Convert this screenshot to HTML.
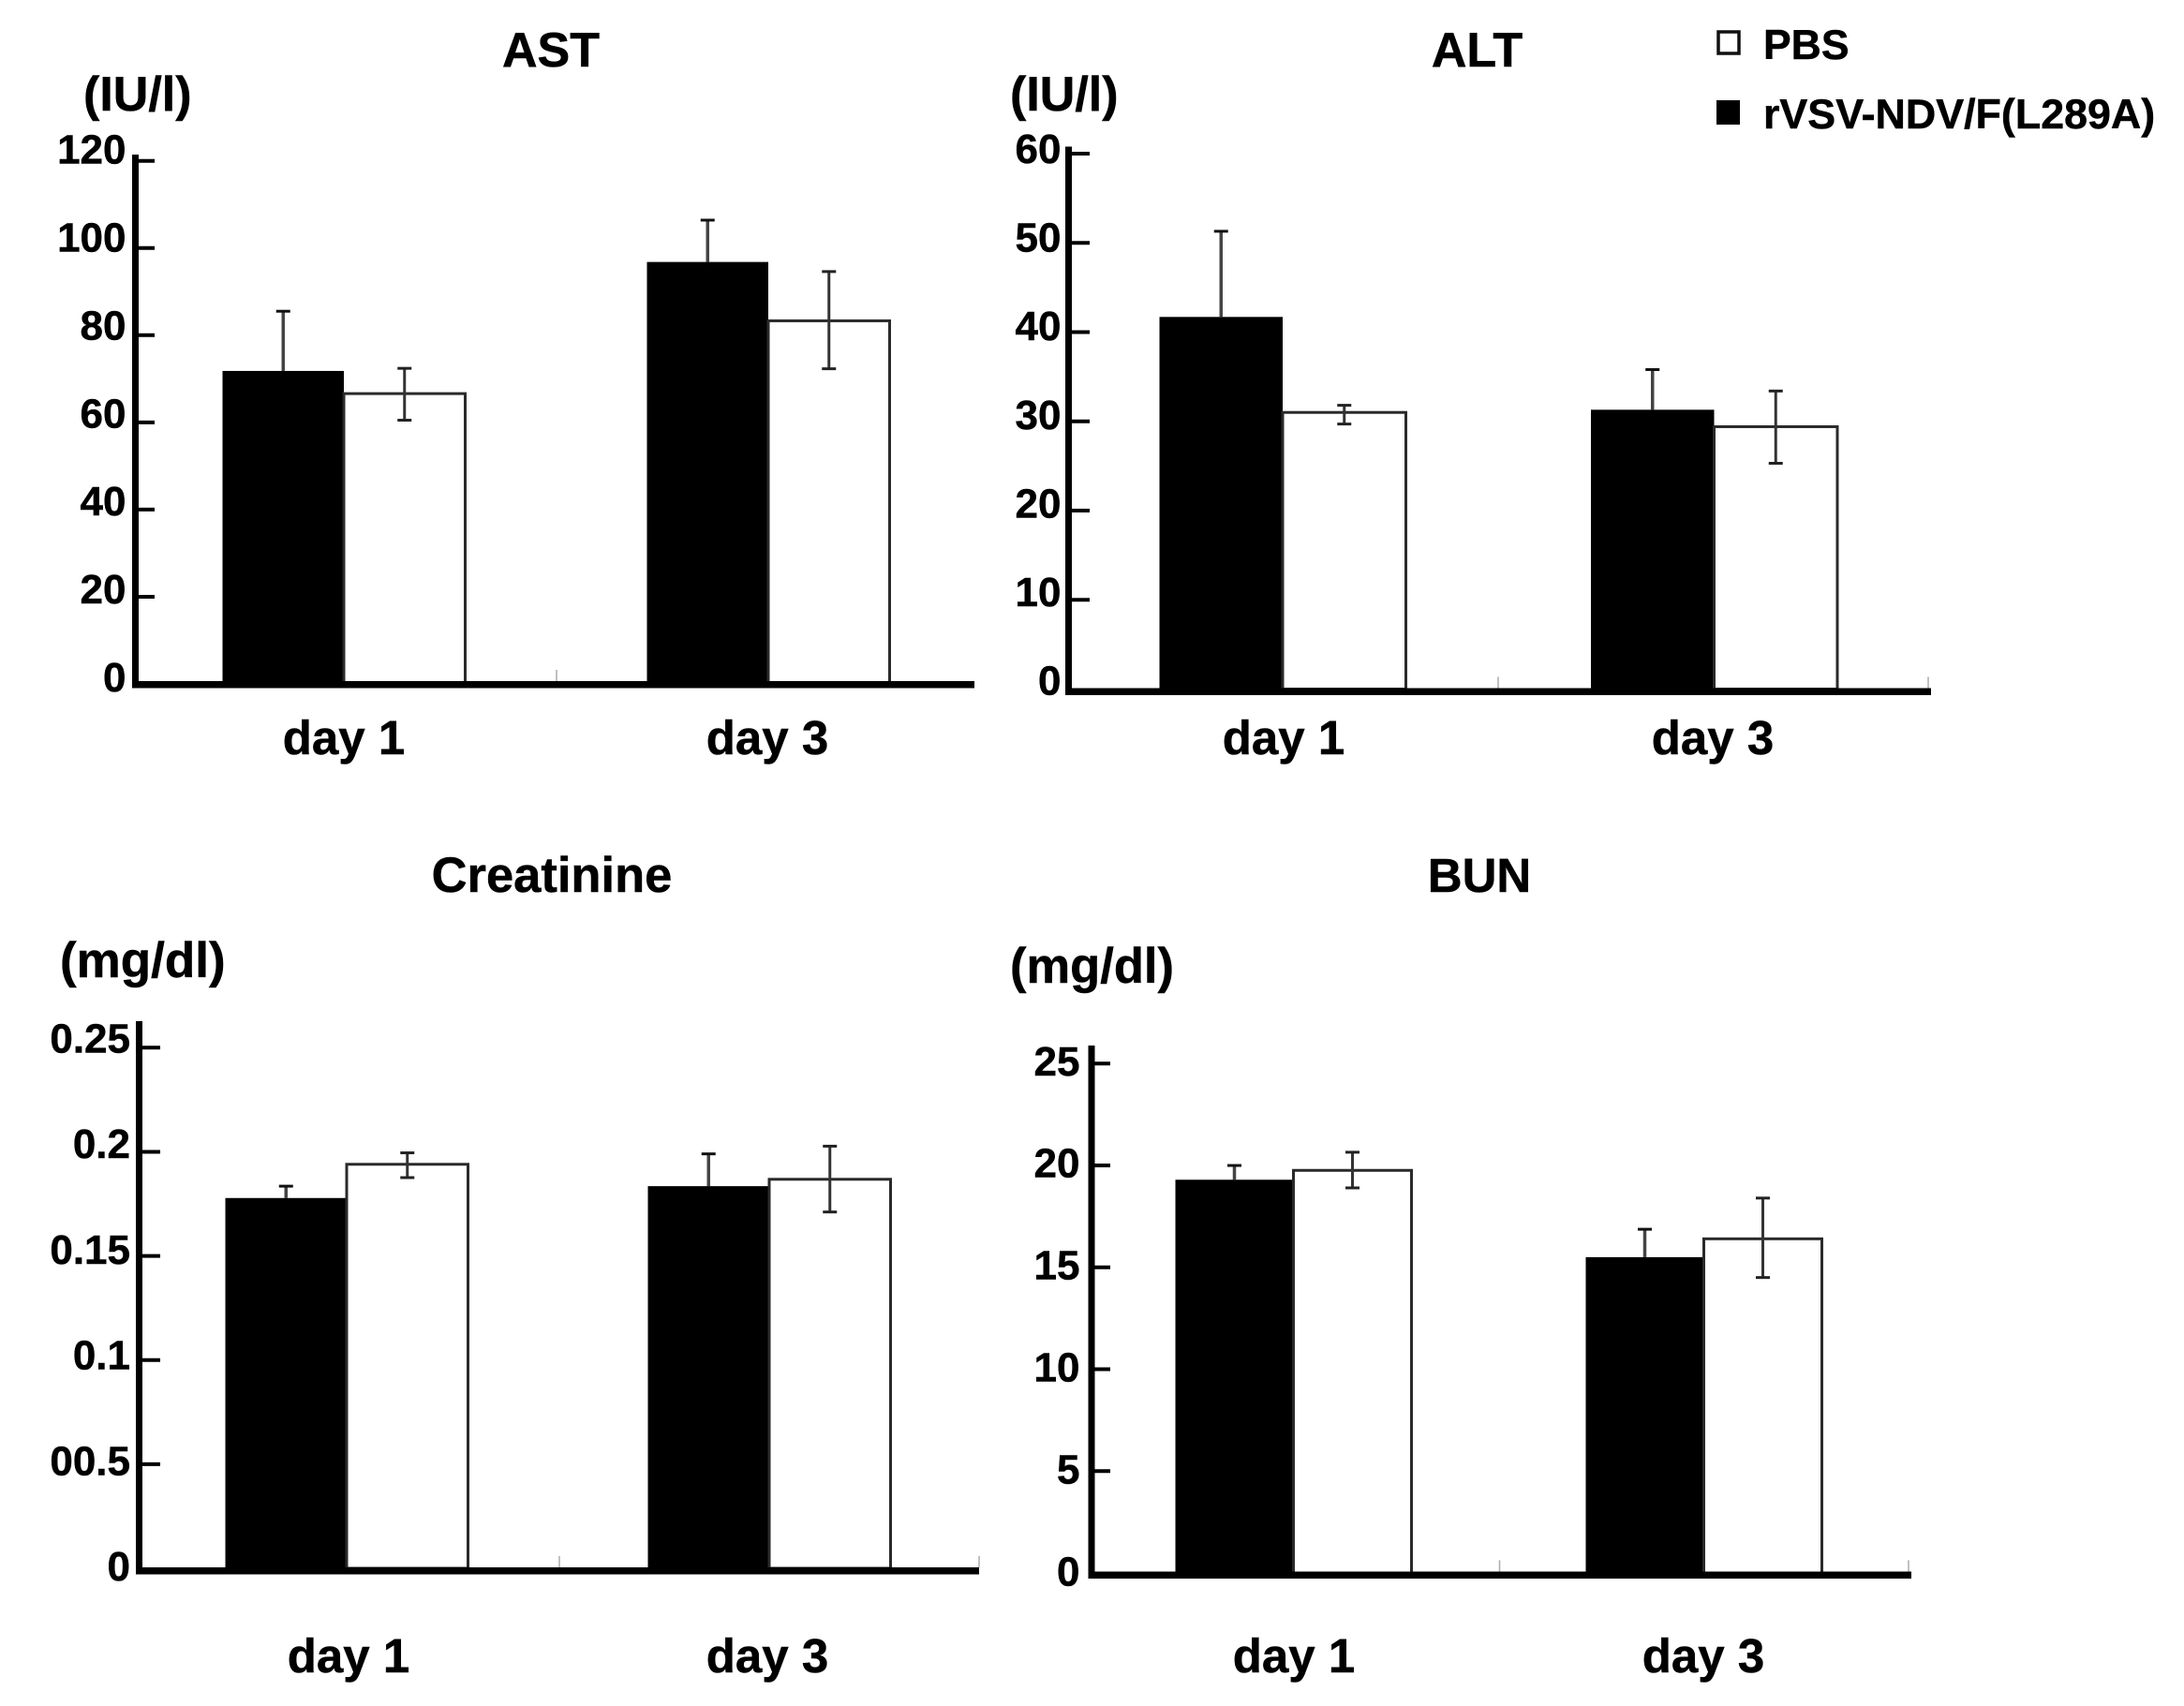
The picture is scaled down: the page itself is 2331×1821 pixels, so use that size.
<!DOCTYPE html>
<html lang="en">
<head>
<meta charset="utf-8">
<title>Liver and kidney markers</title>
<style>
html,body{margin:0;padding:0;background:#fff;}
svg{display:block;}
text{font-family:"Liberation Sans",Arial,sans-serif;font-weight:700;fill:#000;stroke:#000;stroke-width:0.5;}
</style>
</head>
<body>
<svg id="figure" xmlns="http://www.w3.org/2000/svg" width="2331" height="1821" viewBox="0 0 2331 1821">
  <rect x="0" y="0" width="2331" height="1821" fill="#fff"/>
  <g>
    <rect x="1834" y="34" width="22" height="23" fill="#fff" stroke="#111" stroke-width="3.5"/>
    <text x="1882" y="63" font-size="44.5">PBS</text>
    <rect x="1832" y="107" width="25" height="26" fill="#000"/>
    <text x="1882" y="137" font-size="44.8">rVSV-NDV/F(L289A)</text>
  </g>
</svg>
<script>
// Shared categories
const days = ['day 1', 'day 3'];

// AST (IU/l)
const astTicks = [0, 20, 40, 60, 80, 100, 120];
const astTickLabels = ['0', '20', '40', '60', '80', '100', '120'];
const astVirus = [71.8, 96.8];
const astVirusHigh = [85.5, 106.4];
const astPbs = [66.6, 83.3];
const astPbsHigh = [72.4, 94.6];
const astPbsLow = [60.5, 72.3];

// ALT (IU/l)
const altTicks = [0, 10, 20, 30, 40, 50, 60];
const altTickLabels = ['0', '10', '20', '30', '40', '50', '60'];
const altVirus = [41.7, 31.3];
const altVirusHigh = [51.3, 35.8];
const altPbs = [31.0, 29.4];
const altPbsHigh = [31.8, 33.4];
const altPbsLow = [29.7, 25.3];

// Creatinine (mg/dl)
const creTicks = [0, 0.05, 0.1, 0.15, 0.2, 0.25];
const creTickLabels = ['0', '00.5', '0.1', '0.15', '0.2', '0.25'];
const creVirus = [0.1778, 0.1835];
const creVirusHigh = [0.1835, 0.199];
const crePbs = [0.194, 0.1868];
const crePbsHigh = [0.1995, 0.2027];
const crePbsLow = [0.1876, 0.1711];

// BUN (mg/dl)
const bunTicks = [0, 5, 10, 15, 20, 25];
const bunTickLabels = ['0', '5', '10', '15', '20', '25'];
const bunVirus = [19.3, 15.5];
const bunVirusHigh = [20.0, 16.87];
const bunPbs = [19.76, 16.4];
const bunPbsHigh = [20.65, 18.4];
const bunPbsLow = [18.9, 14.5];

const SVG_NS = 'http://www.w3.org/2000/svg';
const root = document.getElementById('figure');

function make(tag, parent, attrs, content) {
  const el = document.createElementNS(SVG_NS, tag);
  for (const k in attrs) el.setAttribute(k, attrs[k]);
  if (content !== undefined) el.textContent = content;
  parent.appendChild(el);
  return el;
}

function drawPanel(p) {
  const g = make('g', root, {});
  
  

  const yScale = v => p.y0 - (v / p.maxV) * (p.y0 - p.yMax);
  const groupX = i => p.groupStart + i * p.groupStep;
  const bandTop = p.y0 + p.bandOff;

  const title = make('text', g, {x: p.titleX, y: p.titleY, 'font-size': p.titleSize, 'text-anchor': 'middle'}, p.title);
  
  

  const unit = make('text', g, {x: p.unitX, y: p.unitY, 'font-size': p.unitSize}, p.unit);
  
  

  days.forEach((day, i) => {
    const cx = groupX(i);

    const blackTop = yScale(p.virus[i]);
    const errX = cx - p.barW / 2;
    const stem = make('line', g, {x1: errX, x2: errX, y1: yScale(p.virusHigh[i]), y2: blackTop, stroke: '#444', 'stroke-width': 3.5});
    
    
    const cap = make('line', g, {x1: errX - 7.5, x2: errX + 7.5, y1: yScale(p.virusHigh[i]), y2: yScale(p.virusHigh[i]), stroke: '#111', 'stroke-width': 3});
    
    

    const black = make('rect', g, {x: cx - p.barW, y: blackTop, width: p.barW, height: p.y0 - blackTop, fill: '#000'});
    
    

    const whiteTop = yScale(p.pbs[i]);
    const white = make('rect', g, {x: cx, y: whiteTop, width: p.barW, height: p.y0 - whiteTop, fill: '#fff', stroke: '#2a2a2a', 'stroke-width': 3});
    
    

    const wx = cx + p.barW / 2;
    const hi = yScale(p.pbsHigh[i]);
    const lo = yScale(p.pbsLow[i]);
    const wStem = make('line', g, {x1: wx, x2: wx, y1: hi, y2: lo, stroke: '#333', 'stroke-width': 3});
    
    
    const wCapHi = make('line', g, {x1: wx - 7.5, x2: wx + 7.5, y1: hi, y2: hi, stroke: '#222', 'stroke-width': 3});
    
    
    const wCapLo = make('line', g, {x1: wx - 7.5, x2: wx + 7.5, y1: lo, y2: lo, stroke: '#222', 'stroke-width': 3});
    
    

    const dayLabel = make('text', g, {x: p.dayX[i], y: p.dayY, 'font-size': 51, 'text-anchor': 'middle'}, day);
    
    
  });

  const yAxis = make('rect', g, {x: p.axisX - 3.5, y: p.axisTop, width: 7, height: bandTop + 7.5 - p.axisTop, fill: '#000'});
  
  

  const xAxis = make('rect', g, {x: p.axisX - 3.5, y: bandTop, width: p.axisRight - p.axisX + 3.5, height: 7.5, fill: '#000'});
  
  

  p.ticks.forEach((v, i) => {
    const y = yScale(v);
    if (v !== 0) {
      const tick = make('line', g, {x1: p.axisX, x2: p.tickEnd, y1: y, y2: y, stroke: '#000', 'stroke-width': 4});
      
      
    }
    const frac = (p.y0 - y) / (p.y0 - p.yMax);
    const off = p.labelOffBottom + (p.labelOffTop - p.labelOffBottom) * frac;
    const label = make('text', g, {x: p.labelX, y: y + off, 'font-size': 44, 'text-anchor': 'end'}, p.tickLabels[i]);
    
    
  });

  p.minorX.forEach((x, i) => {
    const minor = make('line', g, {x1: x, x2: x, y1: bandTop - 12, y2: bandTop, stroke: '#aaa', 'stroke-width': 1.5});
    
    
  });
}

drawPanel({
  key: 'ast', title: 'AST', unit: '(IU/l)',
  ticks: astTicks, tickLabels: astTickLabels,
  virus: astVirus, virusHigh: astVirusHigh, pbs: astPbs, pbsHigh: astPbsHigh, pbsLow: astPbsLow,
  maxV: 120, y0: 730, yMax: 171.7, bandOff: -3,
  axisX: 144.5, axisTop: 165, axisRight: 1040, tickEnd: 165,
  groupStart: 367, groupStep: 453, barW: 129.5,
  titleX: 588, titleY: 71, titleSize: 52,
  unitX: 89, unitY: 118, unitSize: 52, labelX: 134.5, labelOffTop: 3, labelOffBottom: 8,
  dayX: [367, 819], dayY: 805, minorX: [594]
});

drawPanel({
  key: 'alt', title: 'ALT', unit: '(IU/l)',
  ticks: altTicks, tickLabels: altTickLabels,
  virus: altVirus, virusHigh: altVirusHigh, pbs: altPbs, pbsHigh: altPbsHigh, pbsLow: altPbsLow,
  maxV: 60, y0: 735.5, yMax: 164, bandOff: -1,
  axisX: 1140.5, axisTop: 156.5, axisRight: 2061, tickEnd: 1163,
  groupStart: 1369, groupStep: 460.5, barW: 131.5,
  titleX: 1576.5, titleY: 71, titleSize: 52,
  unitX: 1078, unitY: 118, unitSize: 52, labelX: 1132.5, labelOffTop: 10, labelOffBottom: 6,
  dayX: [1370, 1828], dayY: 805, minorX: [1599, 2058]
});

drawPanel({
  key: 'creatinine', title: 'Creatinine', unit: '(mg/dl)',
  ticks: creTicks, tickLabels: creTickLabels,
  virus: creVirus, virusHigh: creVirusHigh, pbs: crePbs, pbsHigh: crePbsHigh, pbsLow: crePbsLow,
  maxV: 0.25, y0: 1674, yMax: 1118.3, bandOff: -1,
  axisX: 148.5, axisTop: 1090, axisRight: 1045, tickEnd: 171,
  groupStart: 370, groupStep: 451, barW: 129.5,
  titleX: 589, titleY: 952, titleSize: 52.5,
  unitX: 64, unitY: 1043, unitSize: 53, labelX: 139, labelOffTop: 5, labelOffBottom: 13,
  dayX: [372, 819], dayY: 1785, minorX: [597, 1045]
});

drawPanel({
  key: 'bun', title: 'BUN', unit: '(mg/dl)',
  ticks: bunTicks, tickLabels: bunTickLabels,
  virus: bunVirus, virusHigh: bunVirusHigh, pbs: bunPbs, pbsHigh: bunPbsHigh, pbsLow: bunPbsLow,
  maxV: 25, y0: 1679, yMax: 1135.3, bandOff: -1.5,
  axisX: 1165, axisTop: 1116, axisRight: 2040, tickEnd: 1185,
  groupStart: 1380.5, groupStep: 438, barW: 126,
  titleX: 1579, titleY: 952, titleSize: 51,
  unitX: 1078, unitY: 1049, unitSize: 52.5, labelX: 1152.5, labelOffTop: 12.5, labelOffBottom: 13.5,
  dayX: [1381, 1818], dayY: 1785, minorX: [1600.5, 2037]
});
</script>
</body>
</html>
